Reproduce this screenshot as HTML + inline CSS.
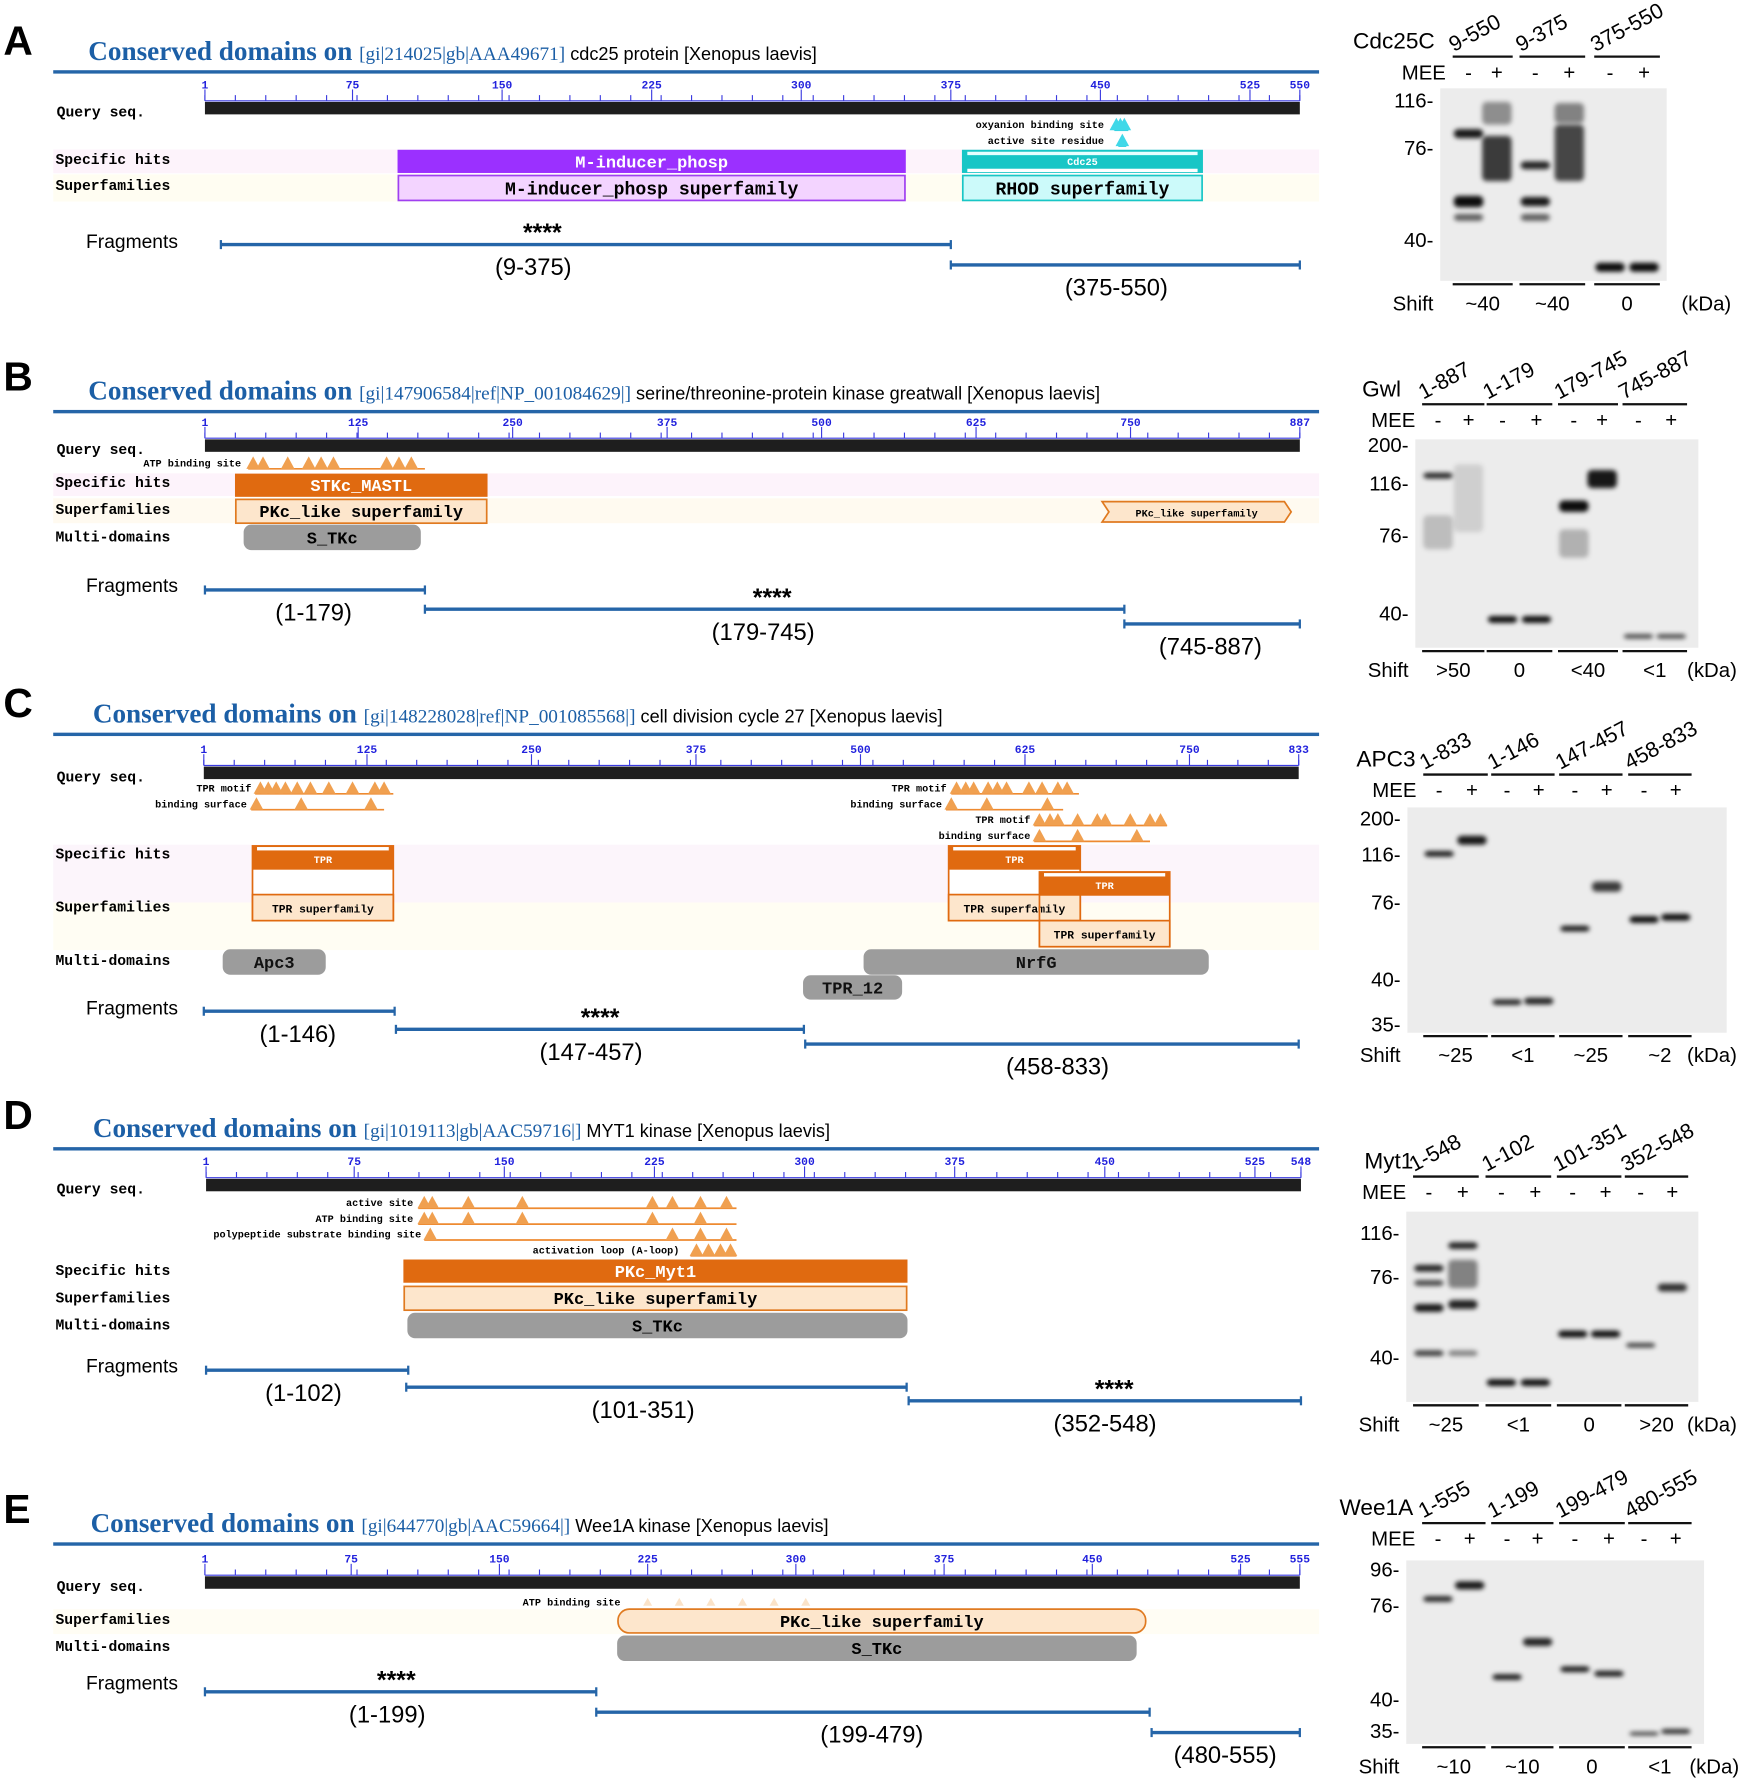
<!DOCTYPE html>
<html><head><meta charset="utf-8">
<style>
html,body{margin:0;padding:0;background:#fff;}
svg{display:block;}
.mono{font-family:"Liberation Mono","DejaVu Sans Mono",monospace;font-weight:bold;}
.sans{font-family:"Liberation Sans",Arial,sans-serif;}
</style></head>
<body>
<svg id="fig" xmlns="http://www.w3.org/2000/svg" width="1755" height="1779" viewBox="0 0 1550 1571" preserveAspectRatio="none"></svg>
<script>
// ---------- data ----------
const panelLetters = ['A','B','C','D','E'];
const letterY = [48,345,633,997,1345];
const titleY = [53,353,638,1004,1353];
const accessions = ['[gi|214025|gb|AAA49671]','[gi|147906584|ref|NP_001084629|]','[gi|148228028|ref|NP_001085568|]','[gi|1019113|gb|AAC59716|]','[gi|644770|gb|AAC59664|]'];
const proteinNames = ['cdc25 protein [Xenopus laevis]','serine/threonine-protein kinase greatwall [Xenopus laevis]','cell division cycle 27 [Xenopus laevis]','MYT1 kinase [Xenopus laevis]','Wee1A kinase [Xenopus laevis]'];
const titleX = [78,78,82,82,80];
const seqLengths = [550,887,833,548,555];
const rulerTicks = [[1,75,150,225,300,375,450,525,550],[1,125,250,375,500,625,750,887],[1,125,250,375,500,625,750,833],[1,75,150,225,300,375,450,525,548],[1,75,150,225,300,375,450,525,555]];
const rulerX0 = [181,181,180,182,181];
const rulerX1 = [1148,1148,1147,1149,1148];
const barY = [90,388,677,1041,1392];
const fragStarts = [[9,375],[1,179,745],[1,147,458],[1,101,352],[1,199,480]];
const fragEnds = [[375,550],[179,745,887],[146,457,833],[102,351,548],[199,479,555]];
const fragLineY = [[216,234],[521,538,551],[893,909,922],[1210,1225,1237],[1494,1512,1530]];
const fragLabelX = [[471,986],[277,674,1069],[263,522,934],[268,568,976],[342,770,1082]];
const fragStarIdx = [0,1,1,2,0];
const fragLabelY0 = [219,523,896,1212,1492];

// domain boxes: [panel, startRes, endRes, type, label]
const domains = [
 [0,98,352,'purple','M-inducer_phosp'],[0,98,352,'purpleLight','M-inducer_phosp superfamily'],
 [0,381,501,'cyan','Cdc25'],[0,381,501,'cyanLight','RHOD superfamily'],
 [1,26,229,'orange','STKc_MASTL'],[1,26,229,'orangeLight','PKc_like superfamily'],
 [1,33,175,'grey','S_TKc'],[1,727,880,'orangeArrow','PKc_like superfamily'],
 [2,38,145,'tpr','TPR'],[2,567,667,'tpr','TPR'],[2,636,735,'tpr2','TPR'],
 [2,16,93,'greyM','Apc3'],[2,503,764,'greyM','NrfG'],[2,457,531,'greyM2','TPR_12'],
 [3,100,351,'orange','PKc_Myt1'],[3,100,351,'orangeLight','PKc_like superfamily'],[3,102,351,'grey','S_TKc'],
 [4,210,477,'orangeLightR','PKc_like superfamily'],[4,210,472,'grey','S_TKc']
];
// motif rows: [panel, y, labelRightX, label, startRes, endRes, triangle residues]
const motifs = [
 [1,403,213,'ATP binding site',36,179,[40,48,68,85,95,105,148,158,168]],
 [2,690,222,'TPR motif',40,145,[44,50,56,63,72,82,96,114,131,138]],
 [2,704,218,'binding surface',37,138,[41,75,128]],
 [2,690,836,'TPR motif',569,666,[573,580,586,597,604,611,628,638,650,657]],
 [2,704,832,'binding surface',565,654,[569,596,642]],
 [2,718,910,'TPR motif',632,733,[636,644,650,665,680,686,705,720,728]],
 [2,732,910,'binding surface',632,720,[636,665,710]],
 [3,1056,365,'active site',107,266,[110,114,132,159,224,234,248,261]],
 [3,1070,365,'ATP binding site',107,266,[110,114,132,159,224,248]],
 [3,1084,372,'polypeptide substrate binding site',110,266,[113,234,248,261]],
 [3,1098,600,'activation loop (A-loop)',243,266,[246,252,258,263]],
 [4,1409,548,'ATP binding site',215,320,[]],
 [0,104,975,'oxyanion binding site',457,464,[458,460,462]],
 [0,118,975,'active site residue',459,463,[461]]
];
// blots
const blotNames = ['Cdc25C','Gwl','APC3','Myt1','Wee1A'];
const blotNameX = [1195,1203,1198,1205,1183];
const blotNameY = [43,350,677,1032,1338];
const laneLabels = [['9-550','9-375','375-550'],['1-887','1-179','179-745','745-887'],['1-833','1-146','147-457','458-833'],['1-548','1-102','101-351','352-548'],['1-555','1-199','199-479','480-555']];
const shifts = [['~40','~40','0'],['>50','0','<40','<1'],['~25','<1','~25','~2'],['~25','<1','0','>20'],['~10','~10','0','<1']];
const blotBox = [[1272,78,1472,248],[1250,388,1500,572],[1243,713,1525,912],[1242,1070,1500,1238],[1242,1378,1505,1540]];
const laneX = [[1297,1322,1356,1386,1422,1452],[1270,1297,1327,1357,1390,1415,1447,1476],[1271,1300,1331,1359,1391,1419,1452,1480],[1262,1292,1326,1356,1389,1418,1449,1477],[1270,1298,1331,1358,1391,1421,1452,1480]];
const mwLabels = [['116','76','40'],['200','116','76','40'],['200','116','76','40','35'],['116','76','40'],['96','76','40','35']];
const mwY = [[88,130,211],[392,426,472,541],[722,754,796,864,904],[1088,1127,1198],[1385,1417,1500,1528]];
const kdaX = [1485,1490,1490,1490,1492];
// bands: [panel, lane, y, height, opacity]
const bands = [
 [0,0,118,8,0.9],[0,0,178,10,0.95],[0,0,192,6,0.6],[0,1,140,40,0.75],[0,1,100,20,0.4],[0,2,146,7,0.85],[0,2,178,8,0.9],[0,2,192,6,0.6],[0,3,135,50,0.7],[0,3,100,18,0.45],[0,4,236,8,0.95],[0,5,236,8,0.95],
 [1,0,420,5,0.85],[1,0,470,30,0.2],[1,1,440,60,0.12],[1,2,547,6,0.95],[1,3,547,6,0.95],[1,4,447,10,0.95],[1,4,480,25,0.25],[1,5,423,16,0.9],[1,6,562,4,0.7],[1,7,562,4,0.7],
 [2,0,754,5,0.9],[2,1,742,8,0.9],[2,2,885,5,0.85],[2,3,884,6,0.85],[2,4,820,5,0.9],[2,5,783,9,0.75],[2,6,812,6,0.95],[2,7,810,6,0.95],
 [3,0,1120,6,0.85],[3,0,1133,5,0.7],[3,0,1155,7,0.9],[3,0,1195,5,0.75],[3,1,1100,6,0.85],[3,1,1125,25,0.45],[3,1,1152,8,0.85],[3,1,1195,5,0.45],[3,2,1221,6,0.95],[3,3,1221,6,0.95],[3,4,1178,6,0.95],[3,5,1178,6,0.95],[3,6,1188,4,0.75],[3,7,1137,7,0.8],
 [4,0,1412,5,0.85],[4,1,1400,7,0.9],[4,2,1481,5,0.9],[4,3,1450,7,0.85],[4,4,1474,5,0.9],[4,5,1478,5,0.9],[4,6,1531,3,0.8],[4,7,1529,4,0.85]
];

// ---------- drawing ----------
const NS='http://www.w3.org/2000/svg';
const svg=document.getElementById('fig');
function el(tag,attrs,parent,text){const e=document.createElementNS(NS,tag);for(const k in attrs)e.setAttribute(k,attrs[k]);if(text!==undefined)e.textContent=text;(parent||svg).appendChild(e);return e;}
function xs(p,r){return rulerX0[p]+(r-1)/(seqLengths[p]-1)*(rulerX1[p]-rulerX0[p]);}
const BLUE='#1c5fa6', LINE='#2565a8';

const defs=el('defs',{});
const f=el('filter',{id:'blur',x:'-30%',y:'-150%',width:'160%',height:'400%'},defs);
el('feGaussianBlur',{stdDeviation:'2'},f);

for(let p=0;p<5;p++){
  const g=el('g',{});
  
  
  const L=el('text',{x:3,y:letterY[p],class:'sans','font-size':36,'font-weight':'bold',fill:'#000'},g,panelLetters[p]);
  
  const t=el('text',{x:titleX[p],y:titleY[p],fill:BLUE},g);
  
  el('tspan',{'font-family':'"Liberation Serif",serif','font-weight':'bold','font-size':24},t,'Conserved domains on ');
  el('tspan',{'font-family':'"Liberation Serif",serif','font-size':17},t,accessions[p]);
  el('tspan',{'font-family':'"Liberation Sans",sans-serif','font-size':16,fill:'#000'},t,' '+proteinNames[p]);
  el('rect',{x:47,y:titleY[p]+9,width:1118,height:3,fill:LINE},g);
  const by=barY[p];
  const x0=rulerX0[p],x1=rulerX1[p];
  el('line',{x1:x0,y1:by-1,x2:x1,y2:by-1,stroke:'#3a3ae0','stroke-width':1},g);
  const n=Math.round((x1-x0)/26.5);
  for(let i=0;i<=n;i++){const x=x0+i*(x1-x0)/n;el('line',{x1:x,y1:by-6,x2:x,y2:by-1,stroke:'#3a3ae0','stroke-width':1},g);}
  rulerTicks[p].forEach(v=>{const x=xs(p,v);el('line',{x1:x,y1:by-11,x2:x,y2:by-1,stroke:'#3a3ae0'},g);
    const tt=el('text',{x:x,y:by-12,'font-size':10,fill:'#2222dd','text-anchor':'middle',class:'mono','font-weight':'normal'},g,String(v));
    });
  const bar=el('rect',{x:x0,y:by,width:x1-x0,height:11,fill:'#1e1e1e'},g);
  
  el('text',{x:50,y:by+13,'font-size':13,class:'mono'},g,'Query seq.');
  el('text',{x:76,y:fragLabelY0[p],'font-size':17,class:'sans'},g,'Fragments');
  fragStarts[p].forEach((s,i)=>{
    const xa=xs(p,s),xb=xs(p,fragEnds[p][i]),y=fragLineY[p][i];
    const fl=el('g',{},g);
    el('line',{x1:xa,y1:y,x2:xb,y2:y,stroke:LINE,'stroke-width':3},fl);
    el('line',{x1:xa,y1:y-4,x2:xa,y2:y+4,stroke:LINE,'stroke-width':2},fl);
    el('line',{x1:xb,y1:y-4,x2:xb,y2:y+4,stroke:LINE,'stroke-width':2},fl);
    const lx=fragLabelX[p][i];
    el('text',{x:lx,y:y+27,'font-size':21,class:'sans','text-anchor':'middle'},fl,'('+s+'-'+fragEnds[p][i]+')');
    if(fragStarIdx[p]===i) el('text',{x:lx+8,y:y-3,'font-size':22,'font-weight':'bold',class:'sans','text-anchor':'middle'},fl,'****');
  });
}
const rowLabels=[[0,'Specific hits',145,132,21,'#fdf3fb'],[0,'Superfamilies',168,154,24,'#fffdf2'],
 [1,'Specific hits',430,418,20,'#fdf3fb'],[1,'Superfamilies',454,440,22,'#fffaf0'],[1,'Multi-domains',478,463,28,'#ffffff'],
 [2,'Specific hits',758,746,51,'#fcf5fb'],[2,'Superfamilies',805,797,42,'#fffdf3'],[2,'Multi-domains',852,838,0,'#fff'],
 [3,'Specific hits',1126,1113,0,'#fff'],[3,'Superfamilies',1150,1136,0,'#fff'],[3,'Multi-domains',1174,1160,0,'#fff'],
 [4,'Superfamilies',1434,1421,22,'#fffdf4'],[4,'Multi-domains',1458,1445,0,'#fff']];
rowLabels.forEach(r=>{if(r[4])el('rect',{x:47,y:r[3],width:1118,height:r[4],fill:r[5]});});
rowLabels.forEach(r=>{el('text',{x:49,y:r[2],'font-size':13,class:'mono'},svg,r[1]);});

const rowY={0:[133,155],1:[419,441,464],2:[747,790,839],3:[1113,1136,1160],4:[0,1421,1445]};
domains.forEach(d=>{
  const [p,s,e,type,label]=d;const xa=xs(p,s),xb=xs(p,e),w=xb-xa;
  const g=el('g',{});
  const R=rowY[p];
  const box=(y,h,fill,stroke,tc,fs,rx)=>{el('rect',{x:xa,y:y,width:w,height:h,fill:fill,stroke:stroke,'stroke-width':1.5,rx:rx||0},g);
    el('text',{x:xa+w/2,y:y+h/2+fs*0.35,'font-size':fs,'text-anchor':'middle',fill:tc,class:'mono','font-weight':'normal'},g,label);};
  if(type==='purple')box(R[0],19,'#9b30ff','#9b30ff','#fff',15);
  else if(type==='purpleLight')box(R[1],22,'#f3d4ff','#a040f0','#000',16);
  else if(type==='cyan'){box(R[0],19,'#18c6c6','#18c6c6','#fff',9);el('rect',{x:xa+4,y:R[0]+1,width:w-8,height:3,fill:'#e8ffff'},g);el('rect',{x:xa+4,y:R[0]+16,width:w-8,height:3,fill:'#fff'},g);}
  else if(type==='cyanLight')box(R[1],22,'#ccfafa','#18c6c6','#000',16);
  else if(type==='orange')box(R[0],19,'#e06a10','#e06a10','#fff',15);
  else if(type==='orangeLight')box(R[1],21,'#fde6cc','#e07a20','#000',15);
  else if(type==='orangeLightR')box(R[1],21,'#fde6cc','#e07a20','#000',15,10);
  else if(type==='grey')box(R[2],21,'#9c9c9c','#9c9c9c','#000',15,6);
  else if(type==='greyM')box(R[2],21,'#9c9c9c','#9c9c9c','#111',15,6);
  else if(type==='greyM2')box(R[2]+23,20,'#9c9c9c','#9c9c9c','#111',15,6);
  else if(type==='orangeArrow'){const y=443,h=18;el('path',{d:`M${xa} ${y} L${xb-6} ${y} L${xb} ${y+h/2} L${xb-6} ${y+h} L${xa} ${y+h} L${xa+6} ${y+h/2} Z`,fill:'#fde6cc',stroke:'#e07a20','stroke-width':1.5},g);
    el('text',{x:xa+w/2,y:y+13,'font-size':9,'text-anchor':'middle',class:'mono','font-weight':'normal'},g,label);}
  else if(type==='tpr'||type==='tpr2'){const y=type==='tpr'?747:770;
    el('rect',{x:xa,y:y,width:w,height:66,fill:type==='tpr'?'#fff':'none',stroke:'#e06a10','stroke-width':1.5},g);
    el('rect',{x:xa,y:y,width:w,height:21,fill:'#e06a10'},g);
    el('rect',{x:xa+4,y:y+1,width:w-8,height:3,fill:'#fff'},g);
    el('text',{x:xa+w/2,y:y+15,'font-size':9,'text-anchor':'middle',fill:'#fff',class:'mono','font-weight':'normal'},g,'TPR');
    el('rect',{x:xa,y:y+43,width:w,height:23,fill:'#fde6cc',stroke:'#e06a10','stroke-width':1.5},g);
    el('text',{x:xa+w/2,y:y+59,'font-size':10,'text-anchor':'middle',class:'mono','font-weight':'normal'},g,'TPR superfamily');}
});
motifs.forEach(m=>{
  const [p,y,lx,label,s,e,tris]=m;const g=el('g',{});
  
  const cyan=p===0;const col=cyan?'#30d0e0':'#ee8a30';
  el('text',{x:lx,y:y+9,'font-size':9,'text-anchor':'end',class:'mono','font-weight':'normal'},g,label);
  if(p===4){for(let r=225;r<=320;r+=16)el('path',{d:`M${xs(p,r)-4} ${y+9} L${xs(p,r)} ${y+2} L${xs(p,r)+4} ${y+9}Z`,fill:'#fbe3c8'},g);return;}
  el('line',{x1:xs(p,s),y1:y+11,x2:xs(p,e),y2:y+11,stroke:col,'stroke-width':1.5},g);
  tris.forEach(r=>{const x=xs(p,r);el('path',{d:`M${x-6} ${y+11} L${x} ${y} L${x+6} ${y+11}Z`,fill:cyan?'#40d8e8':'#f0a050'},g);});
});
for(let p=0;p<5;p++){
  const g=el('g',{});
  const [bx0,by0,bx1,by1]=blotBox[p];
  el('rect',{x:bx0,y:by0,width:bx1-bx0,height:by1-by0,fill:'#ececec'},g);
  el('text',{x:blotNameX[p],y:blotNameY[p],'font-size':20,class:'sans'},g,blotNames[p]);
  const lx=laneX[p];const ng=laneLabels[p].length;
  const lineTop=blotNameY[p]+7;
  for(let i=0;i<ng;i++){
    const a=lx[2*i]-14,b=lx[2*i+1]+14;
    el('line',{x1:a,y1:lineTop,x2:b,y2:lineTop,stroke:'#111','stroke-width':2},g);
    el('line',{x1:a,y1:by1+3,x2:b,y2:by1+3,stroke:'#111','stroke-width':2},g);
    const tx=a+1,ty=lineTop-4;
    const lt=el('text',{x:tx,y:ty,'font-size':19,class:'sans',transform:`rotate(-28 ${tx} ${ty})`},g,laneLabels[p][i]);
    
    el('text',{x:(a+b)/2,y:by1+26,'font-size':18,class:'sans','text-anchor':'middle'},g,shifts[p][i]);
  }
  el('text',{x:lx[0]-20,y:lineTop+20,'font-size':18,class:'sans','text-anchor':'end'},g,'MEE');
  lx.forEach((x,i)=>el('text',{x:x,y:lineTop+20,'font-size':18,class:'sans','text-anchor':'middle'},g,i%2?'+':'-'));
  el('text',{x:bx0-6,y:by1+26,'font-size':18,class:'sans','text-anchor':'end'},g,'Shift');
  el('text',{x:kdaX[p],y:by1+26,'font-size':18,class:'sans'},g,'(kDa)');
  mwLabels[p].forEach((m,i)=>{el('text',{x:bx0-6,y:mwY[p][i]+7,'font-size':18,class:'sans','text-anchor':'end'},g,m+'-');});
}
bands.forEach(b=>{const [p,l,y,h,o]=b;const x=laneX[p][l];
  const r=el('rect',{x:x-13,y:y-h/2,width:26,height:h,rx:4,fill:'#000','fill-opacity':o,filter:'url(#blur)'});
  });
</script>
</body></html>
